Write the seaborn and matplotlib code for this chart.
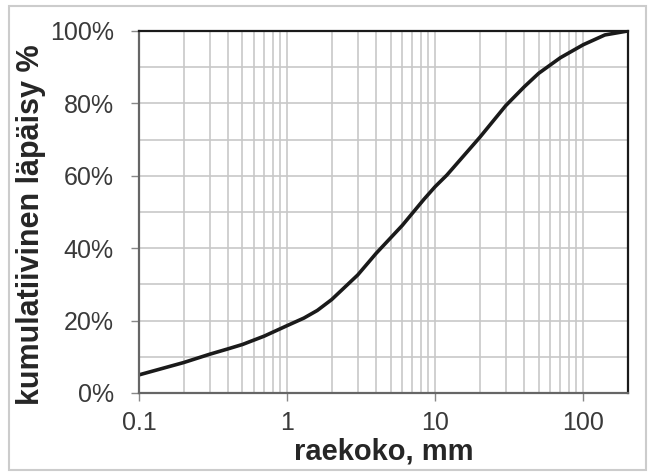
import numpy as np
import pandas as pd
import seaborn as sns
import matplotlib.pyplot as plt
from matplotlib.ticker import FixedLocator, LogLocator, NullFormatter, PercentFormatter
from matplotlib.patches import Rectangle

# raekoko (mm) ja kumulatiivinen läpäisy (%)
raekoko_mm = [0.1, 0.2, 0.3, 0.4, 0.5, 0.7, 1, 1.3, 1.6, 2, 3, 4, 6, 8.4, 10, 12, 20, 30, 40, 50, 70, 100, 140, 200]
lapaisy_pct = [5, 8.4, 10.7, 12.2, 13.4, 15.7, 18.6, 20.7, 22.8, 25.8, 32.6, 38.6, 46.3, 53.5, 57, 60.2,
               70.6, 79.4, 84.6, 88.3, 92.6, 96.2, 98.9, 100]
x_ticks = [0.1, 1, 10, 100]
x_tick_labels = ['0.1', '1', '10', '100']

df = pd.DataFrame({'raekoko': raekoko_mm, 'lapaisy': lapaisy_pct})

sns.set_style('white')
plt.rcParams['font.family'] = ['Liberation Sans', 'DejaVu Sans']

fig = plt.figure(figsize=(6.54, 4.72), dpi=100)
ax = fig.add_axes([0.2125, 0.1674, 0.7475, 0.7670])

sns.lineplot(data=df, x='raekoko', y='lapaisy', color='#1a1a1a', linewidth=2.6, ax=ax)
ax.lines[0].set_solid_joinstyle('round')

ax.set_xscale('log')
ax.set_xlim(0.1, 200)
ax.set_ylim(0, 100)

ax.xaxis.set_major_locator(FixedLocator(x_ticks))
ax.set_xticklabels(x_tick_labels)
ax.xaxis.set_minor_locator(LogLocator(base=10, subs=np.arange(2, 10)))
ax.xaxis.set_minor_formatter(NullFormatter())
ax.set_yticks(np.arange(0, 101, 20))
ax.set_yticks(np.arange(0, 101, 10), minor=True)
ax.yaxis.set_major_formatter(PercentFormatter(decimals=0))

ax.grid(True, which='both', color='#c8c8c8', linewidth=1.2)
ax.set_axisbelow(True)

for side in ['left', 'bottom']:
    ax.spines[side].set_color('#666666')
    ax.spines[side].set_linewidth(1.6)
for side in ['top', 'right']:
    ax.spines[side].set_color('#1a1a1a')
    ax.spines[side].set_linewidth(1.6)

ax.tick_params(axis='both', which='major', direction='out', length=6, width=1, color='#888888',
               labelsize=18, labelcolor='#3a3a3a', left=True, bottom=True)
ax.tick_params(axis='both', which='minor', length=0)
ax.tick_params(axis='x', which='major', pad=7)
ax.tick_params(axis='y', which='major', pad=12)

ax.set_xlabel('raekoko, mm', fontsize=21, fontweight='bold', labelpad=2)
ax.set_ylabel('kumulatiivinen läpäisy %', fontsize=22, fontweight='bold')
ax.yaxis.set_label_coords(-0.19, 0.465)

fig.patches.append(Rectangle((0.013, 0.005), 0.975, 0.983, transform=fig.transFigure,
                             fill=False, edgecolor='#cccccc', linewidth=1.5))

fig.savefig('out.png', dpi=100)
